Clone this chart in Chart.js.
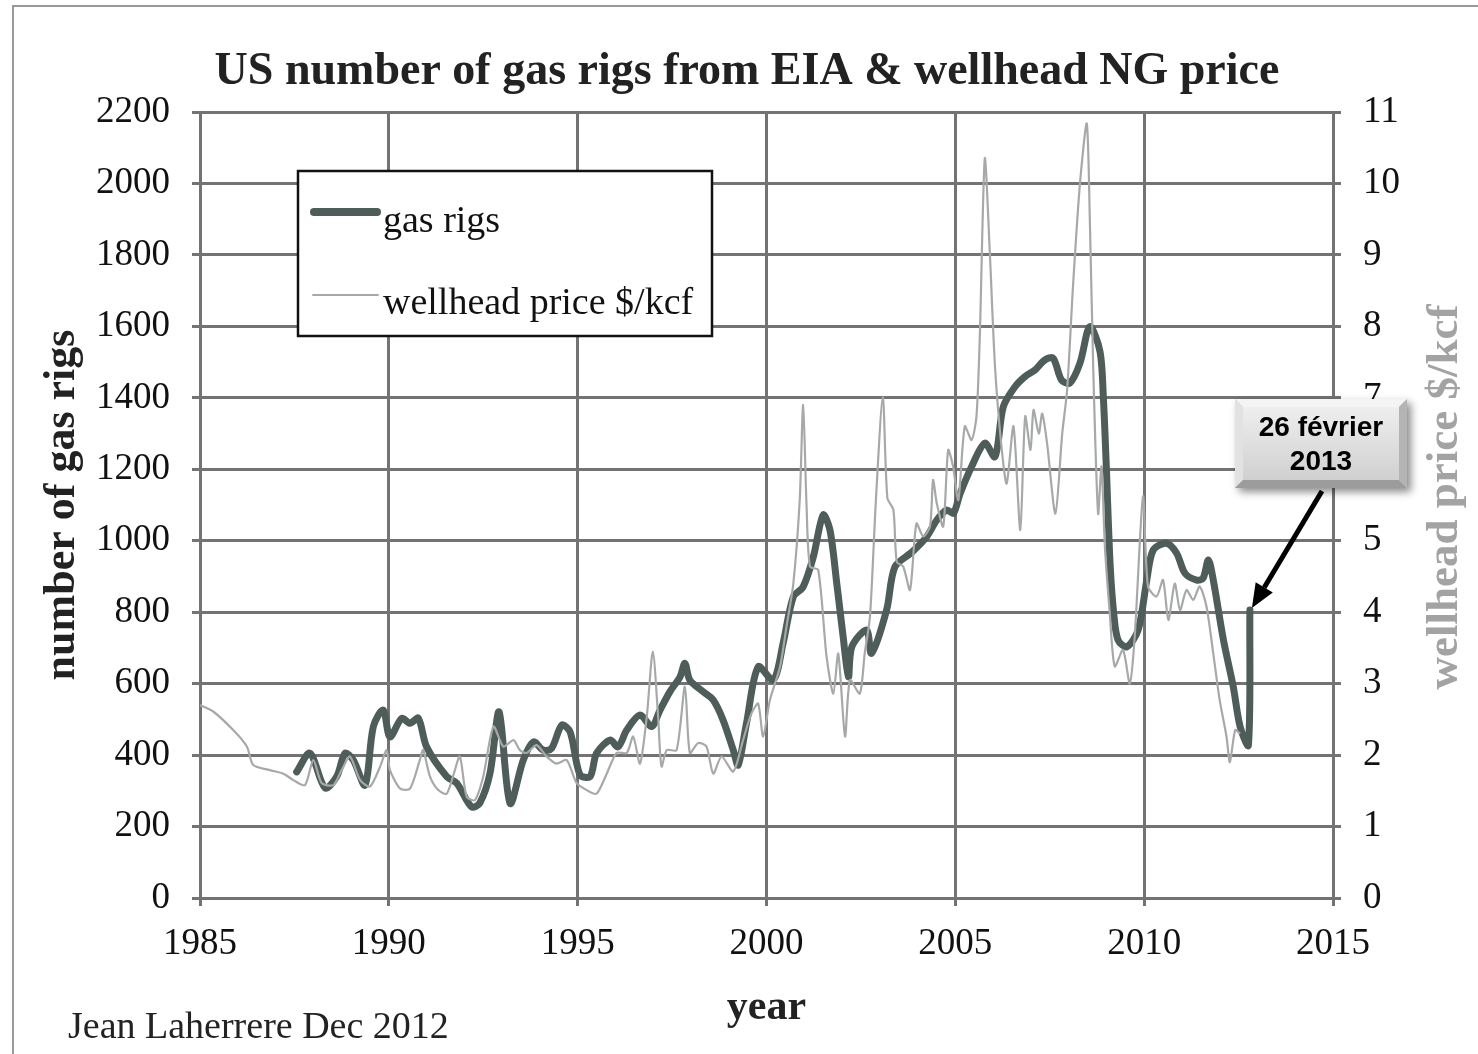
<!DOCTYPE html>
<html>
<head>
<meta charset="utf-8">
<script src="https://cdn.jsdelivr.net/npm/chart.js@4.4.1/dist/chart.umd.min.js"></script>
<style>
html,body{margin:0;padding:0;background:#fff;}
#wrap{width:1478px;height:1054px;position:relative;}
</style>
</head>
<body>
<div id="wrap"><canvas id="c" width="1478" height="1054"></canvas></div>
<script>
// ---------- data ----------
const chartTitle = 'US number of gas rigs from EIA & wellhead NG price';
const yearMin = 1985, yearMax = 2015, yearStep = 5;
const rigMax = 2200, rigStep = 200;
const priceMax = 11, priceStep = 1;

const rigYears = [1987.56,1987.91,1988.31,1988.62,1988.84,1989.06,1989.37,1989.59,1989.85,1990.03,1990.34,1990.56,1990.78,1991.0,1991.53,1991.8,1992.19,1992.41,1992.68,1992.92,1993.21,1993.56,1993.83,1994.09,1994.31,1994.58,1994.80,1995.06,1995.33,1995.50,1995.86,1996.07,1996.30,1996.65,1996.96,1997.18,1997.44,1997.71,1997.84,1997.97,1998.33,1998.59,1998.85,1999.12,1999.25,1999.47,1999.78,2000.18,2000.44,2000.71,2000.97,2001.24,2001.50,2001.68,2001.86,2002.03,2002.17,2002.26,2002.65,2002.78,2003.18,2003.40,2003.85,2004.24,2004.51,2004.77,2004.95,2005.12,2005.43,2005.78,2006.05,2006.27,2006.58,2006.84,2007.11,2007.37,2007.59,2007.81,2008.03,2008.30,2008.56,2008.83,2008.92,2009.0,2009.1,2009.2,2009.31,2009.54,2009.84,2010.07,2010.24,2010.59,2010.86,2011.08,2011.39,2011.56,2011.70,2011.83,2012.10,2012.36,2012.54,2012.76,2012.80];
const rigCounts = [353,405,308,340,405,386,316,480,526,451,503,489,503,423,340,321,255,266,350,521,265,386,437,414,419,484,465,345,340,405,442,423,470,512,480,526,577,619,657,610,577,554,498,414,372,489,647,610,713,843,871,955,1072,1030,881,731,619,703,750,685,806,927,968,1011,1058,1086,1077,1130,1207,1273,1235,1375,1431,1459,1478,1506,1511,1450,1441,1497,1599,1530,1400,1200,930,790,722,703,750,890,974,993,965,909,890,895,946,890,722,591,480,428,806];

const priceYears = [1985.0,1985.35,1985.88,1986.24,1986.41,1986.85,1987.21,1987.47,1987.78,1988.0,1988.22,1988.53,1988.75,1988.97,1989.24,1989.50,1989.77,1989.94,1990.03,1990.30,1990.56,1990.82,1990.91,1991.09,1991.31,1991.53,1991.71,1991.88,1992.06,1992.28,1992.50,1992.77,1993.03,1993.30,1993.47,1993.65,1993.91,1994.18,1994.44,1994.71,1994.97,1995.24,1995.5,1995.77,1996.03,1996.30,1996.47,1996.65,1996.83,1996.99,1997.13,1997.22,1997.36,1997.62,1997.84,1997.97,1998.19,1998.41,1998.59,1998.81,1999.12,1999.38,1999.60,1999.78,1999.91,2000.09,2000.36,2000.53,2000.71,2000.88,2000.97,2001.06,2001.15,2001.37,2001.59,2001.77,2001.90,2002.08,2002.21,2002.47,2002.60,2002.74,2002.90,2003.08,2003.2,2003.36,2003.45,2003.62,2003.80,2003.97,2004.15,2004.33,2004.41,2004.51,2004.68,2004.81,2004.94,2005.08,2005.25,2005.43,2005.56,2005.65,2005.78,2005.91,2006.05,2006.23,2006.36,2006.54,2006.72,2006.85,2006.99,2007.07,2007.21,2007.30,2007.43,2007.65,2007.83,2007.96,2008.12,2008.30,2008.48,2008.56,2008.65,2008.78,2008.87,2008.96,2009.09,2009.22,2009.44,2009.62,2009.75,2009.97,2010.10,2010.33,2010.50,2010.64,2010.81,2010.95,2011.12,2011.30,2011.47,2011.65,2011.83,2012.0,2012.18,2012.27,2012.41,2012.54];
const prices = [2.70,2.61,2.35,2.12,1.86,1.79,1.74,1.65,1.58,1.93,1.61,1.58,1.79,1.98,1.65,1.56,1.84,2.07,1.79,1.53,1.53,1.93,2.07,1.70,1.51,1.46,1.72,1.98,1.42,1.37,1.70,2.40,2.12,2.21,2.07,2.03,2.14,1.98,1.88,1.93,1.61,1.51,1.46,1.74,2.03,2.03,2.26,1.88,2.54,3.45,2.54,1.84,2.07,2.07,2.96,2.03,2.17,2.12,1.74,1.98,1.77,2.21,2.58,2.72,2.26,2.77,3.24,3.80,4.40,5.57,6.90,5.50,4.64,4.59,3.38,2.86,3.42,2.26,3.05,2.86,3.42,3.94,5.60,7.02,5.60,5.43,4.70,4.64,4.31,5.24,5.06,5.20,5.85,5.52,5.20,6.27,6.04,5.57,6.60,6.41,6.74,7.90,10.35,9.07,7.44,6.27,5.80,6.60,5.15,6.74,6.27,6.83,6.50,6.78,6.36,5.38,6.50,7.11,8.60,10.0,10.84,9.53,7.44,5.38,6.04,4.92,3.98,3.24,3.47,3.00,3.66,5.62,4.36,4.22,4.45,3.89,4.40,4.03,4.31,4.17,4.36,4.08,3.42,2.77,2.26,1.90,2.35,2.30];

const legendLabels = ['gas rigs', 'wellhead price $/kcf'];
const leftTitle = 'number of gas rigs';
const rightTitle = 'wellhead price $/kcf';
const xTitle = 'year';
const footerText = 'Jean Laherrere Dec 2012';
const calloutLines = ['26 février', '2013'];

// ---------- styles ----------
const SERIF = "'Liberation Serif','Times New Roman',serif";
const SANS = "'Liberation Sans',Arial,sans-serif";
const GRID = '#737373';
const RIG_COLOR = '#4e5c5a';
const PRICE_COLOR = '#a7a9a9';

const rigData = rigYears.map((x, i) => ({x, y: rigCounts[i]}));
const priceData = priceYears.map((x, i) => ({x, y: prices[i]}));

const decorPlugin = {
  id: 'decor',
  afterDraw(chart) {
    const ctx = chart.ctx;
    ctx.save();
    // page frame (scan border)
    ctx.strokeStyle = '#9a9a9a';
    ctx.lineWidth = 2;
    ctx.beginPath();
    ctx.moveTo(13, 1054); ctx.lineTo(13, 6); ctx.lineTo(1478, 6);
    ctx.stroke();

    // legend box
    const lx = 298, ly = 171, lw = 414, lh = 165;
    ctx.fillStyle = '#fff';
    ctx.fillRect(lx, ly, lw, lh);
    ctx.strokeStyle = '#111';
    ctx.lineWidth = 2.5;
    ctx.strokeRect(lx, ly, lw, lh);
    ctx.lineCap = 'round';
    ctx.strokeStyle = RIG_COLOR; ctx.lineWidth = 8;
    ctx.beginPath(); ctx.moveTo(314, 212); ctx.lineTo(377, 212); ctx.stroke();
    ctx.strokeStyle = PRICE_COLOR; ctx.lineWidth = 2;
    ctx.beginPath(); ctx.moveTo(313, 295); ctx.lineTo(378, 295); ctx.stroke();
    ctx.fillStyle = '#111';
    ctx.font = '38px ' + SERIF;
    ctx.textAlign = 'left'; ctx.textBaseline = 'alphabetic';
    ctx.fillText(legendLabels[0], 383, 232);
    ctx.fillText(legendLabels[1], 383, 314);

    // right axis title
    ctx.save();
    ctx.translate(1445, 497);
    ctx.rotate(-Math.PI / 2);
    ctx.font = 'bold 45px ' + SERIF;
    ctx.fillStyle = '#a3a3a3';
    ctx.textAlign = 'center'; ctx.textBaseline = 'middle';
    ctx.fillText(rightTitle, 0, 0);
    ctx.restore();

    // footer
    ctx.font = '38px ' + SERIF;
    ctx.fillStyle = '#222';
    ctx.textAlign = 'left'; ctx.textBaseline = 'alphabetic';
    ctx.fillText(footerText, 68, 1038);

    // callout box
    const bx = 1235, by = 399, bw = 172, bh = 89, bev = 8;
    ctx.save();
    ctx.shadowColor = 'rgba(0,0,0,0.45)';
    ctx.shadowBlur = 8; ctx.shadowOffsetX = 4; ctx.shadowOffsetY = 4;
    ctx.fillStyle = '#c8c8c8';
    ctx.fillRect(bx, by, bw, bh);
    ctx.restore();
    const poly = (pts, col) => { ctx.fillStyle = col; ctx.beginPath(); ctx.moveTo(pts[0][0], pts[0][1]); for (let i = 1; i < pts.length; i++) ctx.lineTo(pts[i][0], pts[i][1]); ctx.closePath(); ctx.fill(); };
    poly([[bx,by],[bx+bw,by],[bx+bw-bev,by+bev],[bx+bev,by+bev]], '#f4f4f4');
    poly([[bx,by],[bx+bev,by+bev],[bx+bev,by+bh-bev],[bx,by+bh]], '#e2e2e2');
    poly([[bx,by+bh],[bx+bev,by+bh-bev],[bx+bw-bev,by+bh-bev],[bx+bw,by+bh]], '#9c9c9c');
    poly([[bx+bw,by],[bx+bw,by+bh],[bx+bw-bev,by+bh-bev],[bx+bw-bev,by+bev]], '#b4b4b4');
    const g = ctx.createLinearGradient(0, by + bev, 0, by + bh - bev);
    g.addColorStop(0, '#eeeeee'); g.addColorStop(1, '#d0d0d0');
    ctx.fillStyle = g;
    ctx.fillRect(bx + bev, by + bev, bw - 2 * bev, bh - 2 * bev);
    ctx.fillStyle = '#000';
    ctx.font = 'bold 28px ' + SANS;
    ctx.textAlign = 'center'; ctx.textBaseline = 'middle';
    ctx.fillText(calloutLines[0], bx + bw / 2, 428);
    ctx.fillText(calloutLines[1], bx + bw / 2, 462);

    // arrow to last rig point
    const meta = chart.getDatasetMeta(0);
    const last = meta.data[meta.data.length - 1];
    const sx = 1322, sy = 491;
    const ex = last.x + 2, ey = last.y - 2;
    const ang = Math.atan2(ey - sy, ex - sx);
    const headL = 24, headW = 10;
    const hx = ex - headL * Math.cos(ang), hy = ey - headL * Math.sin(ang);
    ctx.strokeStyle = '#000'; ctx.lineWidth = 5; ctx.lineCap = 'butt';
    ctx.beginPath(); ctx.moveTo(sx, sy); ctx.lineTo(hx, hy); ctx.stroke();
    ctx.fillStyle = '#000';
    ctx.beginPath();
    ctx.moveTo(ex, ey);
    ctx.lineTo(hx + headW * Math.sin(ang), hy - headW * Math.cos(ang));
    ctx.lineTo(hx - headW * Math.sin(ang), hy + headW * Math.cos(ang));
    ctx.closePath(); ctx.fill();
    ctx.restore();
  }
};

new Chart(document.getElementById('c'), {
  type: 'line',
  data: {
    datasets: [
      { label: legendLabels[0], data: rigData, yAxisID: 'y', borderColor: RIG_COLOR, borderWidth: 7, pointRadius: 0, tension: 0.3, order: 1, borderCapStyle: 'round', borderJoinStyle: 'round' },
      { label: legendLabels[1], data: priceData, yAxisID: 'y2', borderColor: PRICE_COLOR, borderWidth: 2.2, pointRadius: 0, tension: 0.25, order: 0 }
    ]
  },
  options: {
    responsive: false,
    animation: false,
    devicePixelRatio: 1,
    layout: { padding: { left: 16, right: 0, top: 0, bottom: 0 } },
    plugins: {
      legend: { display: false },
      tooltip: { enabled: false },
      title: {
        display: true, text: chartTitle, color: '#222',
        font: { family: SERIF, size: 46, weight: 'bold' },
        padding: { top: 45, bottom: 11.8 }
      }
    },
    scales: {
      x: {
        type: 'linear', min: yearMin, max: yearMax,
        afterFit(s) { s.height = 156; },
        ticks: { stepSize: yearStep, color: '#111', font: { family: SERIF, size: 37 }, padding: 16, callback: v => String(v) },
        grid: { color: GRID, lineWidth: 3, tickLength: 8 },
        border: { color: GRID, width: 3 },
        title: { display: true, text: xTitle, color: '#222', font: { family: SERIF, size: 42, weight: 'bold' }, padding: { top: 0, bottom: 21 } }
      },
      y: {
        position: 'left', min: 0, max: rigMax,
        afterFit(s) { s.width = 184; },
        ticks: { stepSize: rigStep, color: '#111', font: { family: SERIF, size: 37 }, padding: 22, callback: v => String(v) },
        grid: { color: GRID, lineWidth: 3, tickLength: 8 },
        border: { color: GRID, width: 3 },
        title: { display: true, text: leftTitle, color: '#222', font: { family: SERIF, size: 44, weight: 'bold' }, padding: { top: 20, bottom: 0 } }
      },
      y2: {
        position: 'right', min: 0, max: priceMax,
        afterFit(s) { s.width = 145; },
        ticks: { stepSize: priceStep, color: '#111', font: { family: SERIF, size: 37 }, padding: 22, callback: v => String(v) },
        grid: { color: GRID, lineWidth: 3, tickLength: 8, drawOnChartArea: false },
        border: { color: GRID, width: 3 }
      }
    }
  },
  plugins: [decorPlugin]
});
</script>
</body>
</html>
